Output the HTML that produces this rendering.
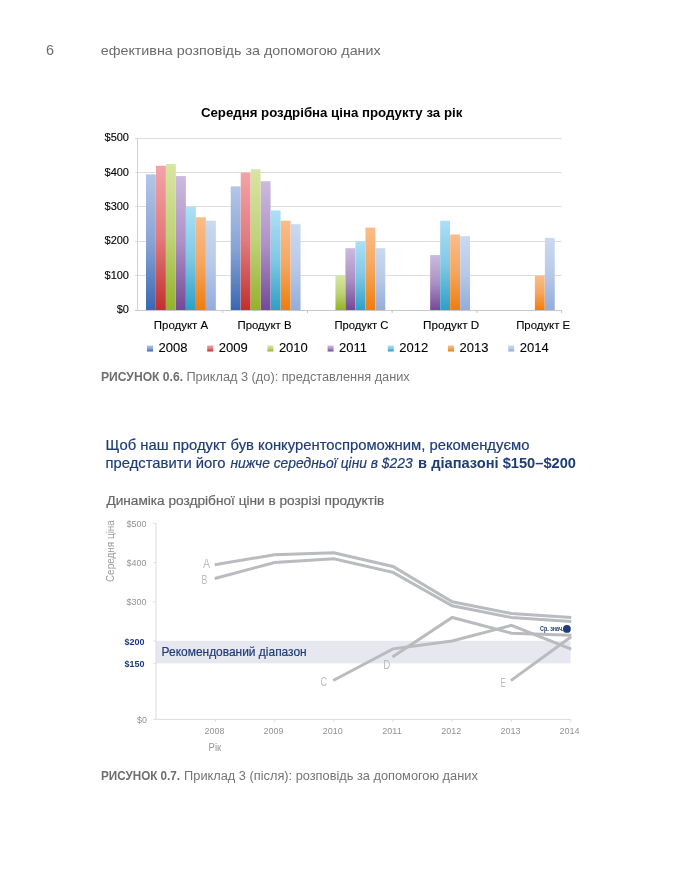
<!DOCTYPE html><html><head><meta charset="utf-8"><style>html,body{margin:0;padding:0;background:#fff;width:700px;height:880px;overflow:hidden}svg{position:absolute;left:0;top:0;will-change:transform;font-family:"Liberation Sans",sans-serif}</style></head><body>
<svg width="700" height="880" viewBox="0 0 700 880">
<defs>
<linearGradient id="g0" x1="0" y1="0" x2="0" y2="1"><stop offset="0" stop-color="#b4c6e7"/><stop offset="0.5" stop-color="#88a4d4"/><stop offset="1" stop-color="#3a67b3"/></linearGradient>
<linearGradient id="g1" x1="0" y1="0" x2="0" y2="1"><stop offset="0" stop-color="#f4a3a8"/><stop offset="0.5" stop-color="#e17a7c"/><stop offset="1" stop-color="#c0302d"/></linearGradient>
<linearGradient id="g2" x1="0" y1="0" x2="0" y2="1"><stop offset="0" stop-color="#d8e5a3"/><stop offset="0.5" stop-color="#bfd377"/><stop offset="1" stop-color="#93b22a"/></linearGradient>
<linearGradient id="g3" x1="0" y1="0" x2="0" y2="1"><stop offset="0" stop-color="#ccbadf"/><stop offset="0.5" stop-color="#ac91c5"/><stop offset="1" stop-color="#744996"/></linearGradient>
<linearGradient id="g4" x1="0" y1="0" x2="0" y2="1"><stop offset="0" stop-color="#acdff7"/><stop offset="0.5" stop-color="#7fc8e5"/><stop offset="1" stop-color="#2f9fc5"/></linearGradient>
<linearGradient id="g5" x1="0" y1="0" x2="0" y2="1"><stop offset="0" stop-color="#f9bd8b"/><stop offset="0.5" stop-color="#f5a65e"/><stop offset="1" stop-color="#ef7d0e"/></linearGradient>
<linearGradient id="g6" x1="0" y1="0" x2="0" y2="1"><stop offset="0" stop-color="#cbd9f0"/><stop offset="0.5" stop-color="#b8c9e8"/><stop offset="1" stop-color="#95acdb"/></linearGradient>
</defs>
<text x="46" y="54.7" font-size="14.3" fill="#6b6b6b">6</text>
<text x="100.7" y="54.7" font-size="13.5" fill="#6b6b6b" textLength="280" lengthAdjust="spacingAndGlyphs">ефективна розповідь за допомогою даних</text>
<text x="200.9" y="116.9" font-size="13.3" font-weight="bold" fill="#000" textLength="261.4" lengthAdjust="spacingAndGlyphs">Середня роздрібна ціна продукту за рік</text>
<line x1="135" y1="138.50" x2="561.6" y2="138.50" stroke="#dcdcdc" stroke-width="1"/>
<line x1="135" y1="172.50" x2="561.6" y2="172.50" stroke="#dcdcdc" stroke-width="1"/>
<line x1="135" y1="206.50" x2="561.6" y2="206.50" stroke="#dcdcdc" stroke-width="1"/>
<line x1="135" y1="241.50" x2="561.6" y2="241.50" stroke="#dcdcdc" stroke-width="1"/>
<line x1="135" y1="275.50" x2="561.6" y2="275.50" stroke="#dcdcdc" stroke-width="1"/>
<line x1="135" y1="310.50" x2="561.6" y2="310.50" stroke="#c8c8c8" stroke-width="1"/>
<line x1="137.5" y1="138" x2="137.5" y2="310" stroke="#d2d2d2" stroke-width="1"/>
<line x1="222.72" y1="310.0" x2="222.72" y2="313.0" stroke="#c6c6c6" stroke-width="1"/>
<line x1="307.44" y1="310.0" x2="307.44" y2="313.0" stroke="#c6c6c6" stroke-width="1"/>
<line x1="392.16" y1="310.0" x2="392.16" y2="313.0" stroke="#c6c6c6" stroke-width="1"/>
<line x1="476.88" y1="310.0" x2="476.88" y2="313.0" stroke="#c6c6c6" stroke-width="1"/>
<line x1="561.60" y1="310.0" x2="561.60" y2="313.0" stroke="#c6c6c6" stroke-width="1"/>
<text x="129" y="141.20" font-size="11" fill="#000" stroke="#000" stroke-width="0.12" text-anchor="end">$500</text>
<text x="129" y="175.54" font-size="11" fill="#000" stroke="#000" stroke-width="0.12" text-anchor="end">$400</text>
<text x="129" y="209.88" font-size="11" fill="#000" stroke="#000" stroke-width="0.12" text-anchor="end">$300</text>
<text x="129" y="244.22" font-size="11" fill="#000" stroke="#000" stroke-width="0.12" text-anchor="end">$200</text>
<text x="129" y="278.56" font-size="11" fill="#000" stroke="#000" stroke-width="0.12" text-anchor="end">$100</text>
<text x="129" y="312.90" font-size="11" fill="#000" stroke="#000" stroke-width="0.12" text-anchor="end">$0</text>
<rect x="146.00" y="174.36" width="9.85" height="135.64" fill="url(#g0)"/>
<rect x="156.00" y="165.77" width="9.85" height="144.23" fill="url(#g1)"/>
<rect x="166.00" y="164.06" width="9.85" height="145.94" fill="url(#g2)"/>
<rect x="176.00" y="176.07" width="9.85" height="133.93" fill="url(#g3)"/>
<rect x="186.00" y="206.98" width="9.85" height="103.02" fill="url(#g4)"/>
<rect x="196.00" y="217.28" width="9.85" height="92.72" fill="url(#g5)"/>
<rect x="206.00" y="220.72" width="9.85" height="89.28" fill="url(#g6)"/>
<rect x="230.72" y="186.38" width="9.85" height="123.62" fill="url(#g0)"/>
<rect x="240.72" y="172.64" width="9.85" height="137.36" fill="url(#g1)"/>
<rect x="250.72" y="169.21" width="9.85" height="140.79" fill="url(#g2)"/>
<rect x="260.72" y="181.22" width="9.85" height="128.78" fill="url(#g3)"/>
<rect x="270.72" y="210.41" width="9.85" height="99.59" fill="url(#g4)"/>
<rect x="280.72" y="220.72" width="9.85" height="89.28" fill="url(#g5)"/>
<rect x="290.72" y="224.15" width="9.85" height="85.85" fill="url(#g6)"/>
<rect x="335.44" y="275.66" width="9.85" height="34.34" fill="url(#g2)"/>
<rect x="345.44" y="248.19" width="9.85" height="61.81" fill="url(#g3)"/>
<rect x="355.44" y="241.32" width="9.85" height="68.68" fill="url(#g4)"/>
<rect x="365.44" y="227.58" width="9.85" height="82.42" fill="url(#g5)"/>
<rect x="375.44" y="248.19" width="9.85" height="61.81" fill="url(#g6)"/>
<rect x="430.16" y="255.06" width="9.85" height="54.94" fill="url(#g3)"/>
<rect x="440.16" y="220.72" width="9.85" height="89.28" fill="url(#g4)"/>
<rect x="450.16" y="234.45" width="9.85" height="75.55" fill="url(#g5)"/>
<rect x="460.16" y="236.17" width="9.85" height="73.83" fill="url(#g6)"/>
<rect x="534.88" y="275.66" width="9.85" height="34.34" fill="url(#g5)"/>
<rect x="544.88" y="237.89" width="9.85" height="72.11" fill="url(#g6)"/>
<text x="153.80" y="328.8" font-size="11.5" fill="#000" stroke="#000" stroke-width="0.12" textLength="54.40" lengthAdjust="spacingAndGlyphs">Продукт A</text>
<text x="237.50" y="328.8" font-size="11.5" fill="#000" stroke="#000" stroke-width="0.12" textLength="54.00" lengthAdjust="spacingAndGlyphs">Продукт B</text>
<text x="334.40" y="328.8" font-size="11.5" fill="#000" stroke="#000" stroke-width="0.12" textLength="54.00" lengthAdjust="spacingAndGlyphs">Продукт C</text>
<text x="423.10" y="328.8" font-size="11.5" fill="#000" stroke="#000" stroke-width="0.12" textLength="56.10" lengthAdjust="spacingAndGlyphs">Продукт D</text>
<text x="516.20" y="328.8" font-size="11.5" fill="#000" stroke="#000" stroke-width="0.12" textLength="54.00" lengthAdjust="spacingAndGlyphs">Продукт E</text>
<rect x="147.00" y="345.5" width="6" height="6" fill="url(#g0)"/>
<text x="158.50" y="352.1" font-size="13" fill="#000" stroke="#000" stroke-width="0.1">2008</text>
<rect x="207.20" y="345.5" width="6" height="6" fill="url(#g1)"/>
<text x="218.70" y="352.1" font-size="13" fill="#000" stroke="#000" stroke-width="0.1">2009</text>
<rect x="267.40" y="345.5" width="6" height="6" fill="url(#g2)"/>
<text x="278.90" y="352.1" font-size="13" fill="#000" stroke="#000" stroke-width="0.1">2010</text>
<rect x="327.60" y="345.5" width="6" height="6" fill="url(#g3)"/>
<text x="339.10" y="352.1" font-size="13" fill="#000" stroke="#000" stroke-width="0.1">2011</text>
<rect x="387.80" y="345.5" width="6" height="6" fill="url(#g4)"/>
<text x="399.30" y="352.1" font-size="13" fill="#000" stroke="#000" stroke-width="0.1">2012</text>
<rect x="448.00" y="345.5" width="6" height="6" fill="url(#g5)"/>
<text x="459.50" y="352.1" font-size="13" fill="#000" stroke="#000" stroke-width="0.1">2013</text>
<rect x="508.20" y="345.5" width="6" height="6" fill="url(#g6)"/>
<text x="519.70" y="352.1" font-size="13" fill="#000" stroke="#000" stroke-width="0.1">2014</text>
<text x="101" y="381.3" font-size="12" fill="#6e6e6e" font-weight="bold" textLength="82" lengthAdjust="spacingAndGlyphs">РИСУНОК 0.6.</text>
<text x="186.4" y="381.3" font-size="12" fill="#747474" textLength="223.3" lengthAdjust="spacingAndGlyphs">Приклад 3 (до): представлення даних</text>
<text x="105.6" y="450" font-size="15" fill="#1e3c76" stroke="#1e3c76" stroke-width="0.2" textLength="423.8" lengthAdjust="spacingAndGlyphs">Щоб наш продукт був конкурентоспроможним, рекомендуємо</text>
<text x="105.6" y="468.4" font-size="15" fill="#1e3c76" stroke="#1e3c76" stroke-width="0.2" textLength="120" lengthAdjust="spacingAndGlyphs">представити його</text>
<text x="230.5" y="468.4" font-size="15" fill="#1e3c76" stroke="#1e3c76" stroke-width="0.2" font-style="italic" textLength="182.1" lengthAdjust="spacingAndGlyphs">нижче середньої ціни в $223</text>
<text x="418.1" y="468.4" font-size="15" fill="#1e3c76" font-weight="bold" textLength="157.9" lengthAdjust="spacingAndGlyphs">в діапазоні $150–$200</text>
<text x="106.4" y="505.4" font-size="12.5" fill="#666" stroke="#666" stroke-width="0.2" textLength="277.9" lengthAdjust="spacingAndGlyphs">Динаміка роздрібної ціни в розрізі продуктів</text>
<rect x="156.0" y="640.8" width="414.60" height="22.6" fill="#e7e8ef"/>
<line x1="156.0" y1="523" x2="156.0" y2="719.4" stroke="#dcdcdc" stroke-width="1"/>
<line x1="156.0" y1="719.4" x2="570.6" y2="719.4" stroke="#dcdcdc" stroke-width="1"/>
<line x1="153.4" y1="523.40" x2="156.0" y2="523.40" stroke="#dcdcdc" stroke-width="1"/>
<line x1="153.4" y1="562.60" x2="156.0" y2="562.60" stroke="#dcdcdc" stroke-width="1"/>
<line x1="153.4" y1="601.80" x2="156.0" y2="601.80" stroke="#dcdcdc" stroke-width="1"/>
<line x1="153.4" y1="641.00" x2="156.0" y2="641.00" stroke="#dcdcdc" stroke-width="1"/>
<line x1="153.4" y1="663.30" x2="156.0" y2="663.30" stroke="#dcdcdc" stroke-width="1"/>
<line x1="153.4" y1="719.40" x2="156.0" y2="719.40" stroke="#dcdcdc" stroke-width="1"/>
<line x1="215.40" y1="719.4" x2="215.40" y2="721.9" stroke="#dcdcdc" stroke-width="1"/>
<line x1="274.60" y1="719.4" x2="274.60" y2="721.9" stroke="#dcdcdc" stroke-width="1"/>
<line x1="333.80" y1="719.4" x2="333.80" y2="721.9" stroke="#dcdcdc" stroke-width="1"/>
<line x1="393.00" y1="719.4" x2="393.00" y2="721.9" stroke="#dcdcdc" stroke-width="1"/>
<line x1="452.20" y1="719.4" x2="452.20" y2="721.9" stroke="#dcdcdc" stroke-width="1"/>
<line x1="511.40" y1="719.4" x2="511.40" y2="721.9" stroke="#dcdcdc" stroke-width="1"/>
<line x1="570.60" y1="719.4" x2="570.60" y2="721.9" stroke="#dcdcdc" stroke-width="1"/>
<text x="146.5" y="526.70" font-size="9" fill="#939393" text-anchor="end">$500</text>
<text x="146.5" y="565.90" font-size="9" fill="#939393" text-anchor="end">$400</text>
<text x="146.5" y="605.10" font-size="9" fill="#939393" text-anchor="end">$300</text>
<text x="147" y="722.70" font-size="9" fill="#939393" text-anchor="end">$0</text>
<text x="144.5" y="645.0" font-size="9" font-weight="bold" fill="#1e3c76" text-anchor="end">$200</text>
<text x="144.5" y="667.0" font-size="9" font-weight="bold" fill="#1e3c76" text-anchor="end">$150</text>
<text x="214.40" y="733.9" font-size="9" fill="#939393" text-anchor="middle">2008</text>
<text x="273.60" y="733.9" font-size="9" fill="#939393" text-anchor="middle">2009</text>
<text x="332.80" y="733.9" font-size="9" fill="#939393" text-anchor="middle">2010</text>
<text x="392.00" y="733.9" font-size="9" fill="#939393" text-anchor="middle">2011</text>
<text x="451.20" y="733.9" font-size="9" fill="#939393" text-anchor="middle">2012</text>
<text x="510.40" y="733.9" font-size="9" fill="#939393" text-anchor="middle">2013</text>
<text x="569.60" y="733.9" font-size="9" fill="#939393" text-anchor="middle">2014</text>
<text x="208.6" y="751" font-size="11" fill="#959595" textLength="12.6" lengthAdjust="spacingAndGlyphs">Рік</text>
<text transform="translate(113.8,582.1) rotate(-90)" x="0" y="0" font-size="10.5" fill="#9a9a9a" textLength="62" lengthAdjust="spacingAndGlyphs">Середня ціна</text>
<text x="161.6" y="655.5" font-size="12.8" fill="#1e3c76" stroke="#1e3c76" stroke-width="0.2" textLength="145.1" lengthAdjust="spacingAndGlyphs">Рекомендований діапазон</text>
<polyline points="214.71,564.67 274.60,554.76 333.80,552.80 393.00,566.52 452.20,601.80 511.40,613.56 571.30,617.53" fill="none" stroke="#babbbe" stroke-width="3" stroke-linejoin="miter"/>
<polyline points="214.72,578.46 274.60,562.60 333.80,558.68 393.00,572.40 452.20,605.72 511.40,617.48 571.30,621.45" fill="none" stroke="#babbbe" stroke-width="3" stroke-linejoin="miter"/>
<polyline points="333.18,680.53 393.00,648.84 452.20,641.00 511.40,625.32 571.25,649.10" fill="none" stroke="#babbbe" stroke-width="3" stroke-linejoin="miter"/>
<polyline points="392.42,657.07 452.20,617.48 511.40,633.16 571.30,635.14" fill="none" stroke="#babbbe" stroke-width="3" stroke-linejoin="miter"/>
<polyline points="510.83,680.61 571.17,636.67" fill="none" stroke="#babbbe" stroke-width="3" stroke-linejoin="miter"/>
<text x="203" y="567.9" font-size="12" fill="#bcbcbc" textLength="7.1" lengthAdjust="spacingAndGlyphs">A</text>
<text x="201.4" y="583.6" font-size="12" fill="#bcbcbc" textLength="5.9" lengthAdjust="spacingAndGlyphs">B</text>
<text x="320.6" y="686.2" font-size="12" fill="#bcbcbc" textLength="6.6" lengthAdjust="spacingAndGlyphs">C</text>
<text x="383.3" y="668.7" font-size="12" fill="#bcbcbc" textLength="7.0" lengthAdjust="spacingAndGlyphs">D</text>
<text x="500.4" y="686.6" font-size="12" fill="#bcbcbc" textLength="5.2" lengthAdjust="spacingAndGlyphs">E</text>
<circle cx="566.9" cy="628.9" r="3.9" fill="#1e3c76"/>
<text x="540" y="630.7" font-size="7" font-weight="bold" fill="#1e3c76" textLength="23.6" lengthAdjust="spacingAndGlyphs">Ср. знач.</text>
<text x="101" y="780" font-size="12" fill="#6e6e6e" font-weight="bold" textLength="79.1" lengthAdjust="spacingAndGlyphs">РИСУНОК 0.7.</text>
<text x="184.1" y="780" font-size="12" fill="#747474" textLength="293.7" lengthAdjust="spacingAndGlyphs">Приклад 3 (після): розповідь за допомогою даних</text>
</svg></body></html>
